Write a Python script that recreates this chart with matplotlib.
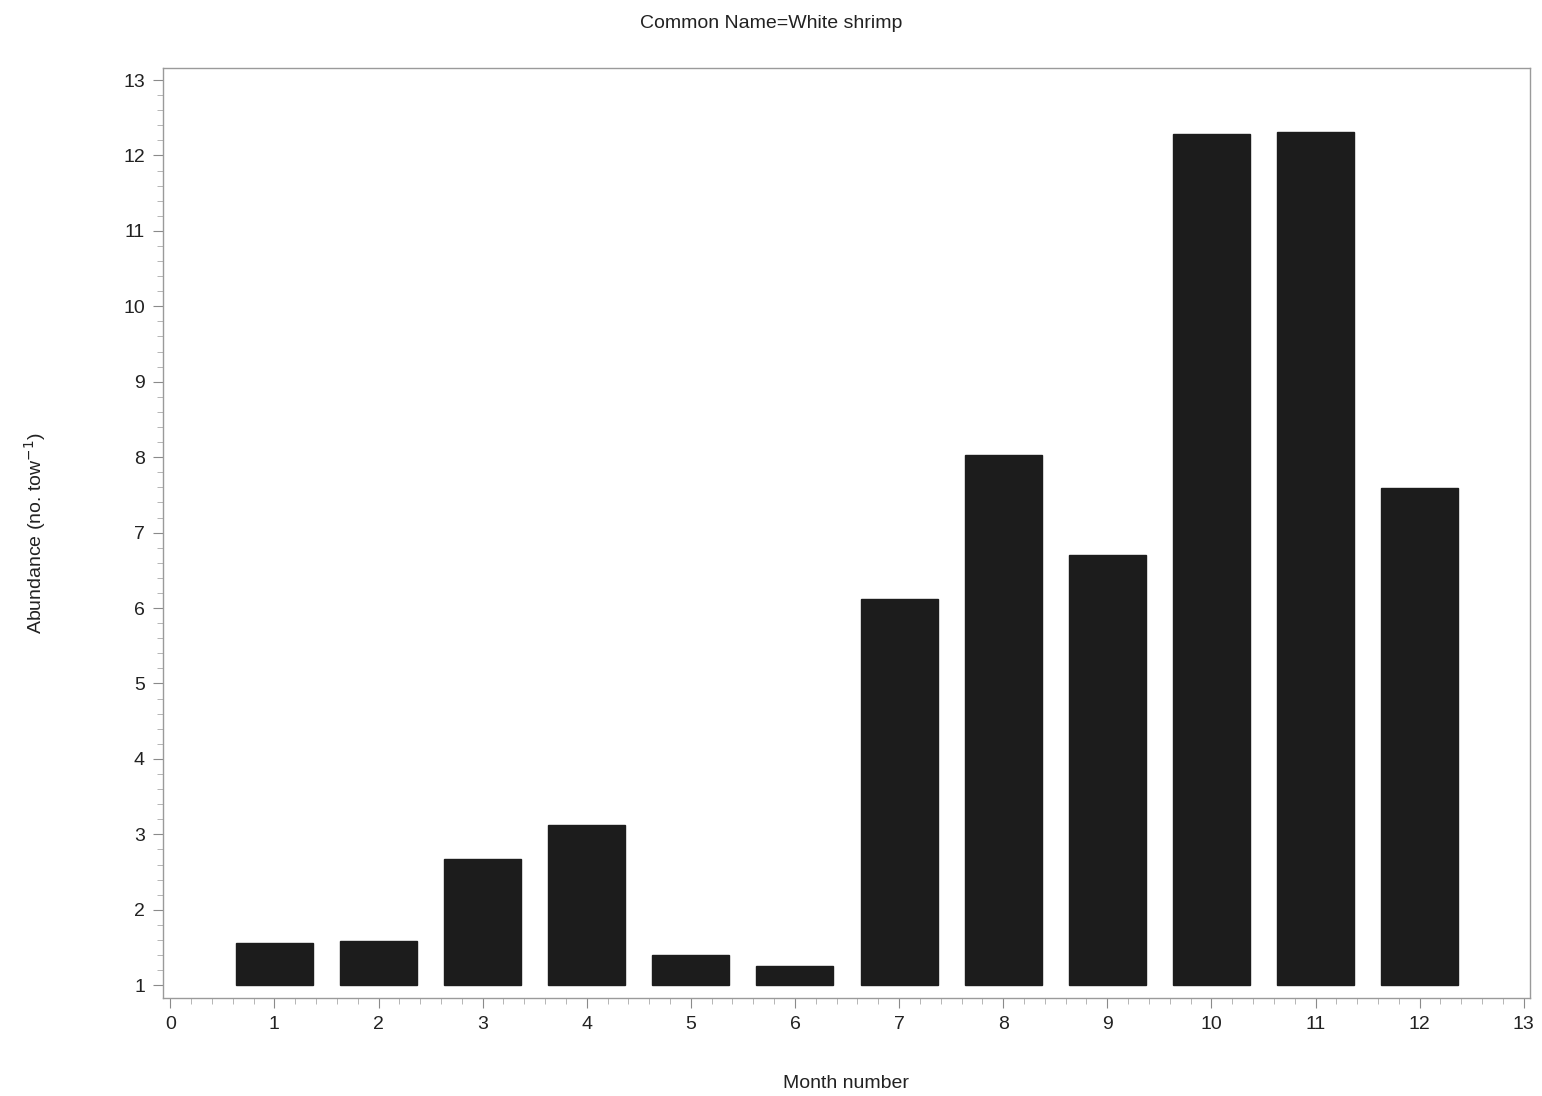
import matplotlib
matplotlib.use("Agg")
import matplotlib.pyplot as plt
from matplotlib.ticker import MultipleLocator

plt.rcParams['font.family'] = ['Liberation Sans', 'DejaVu Sans']

months = [1, 2, 3, 4, 5, 6, 7, 8, 9, 10, 11, 12]
abundance = [1.56, 1.58, 2.67, 3.12, 1.40, 1.25, 6.12, 8.03, 6.70, 12.29, 12.31, 7.59]
baseline = 1.0

fig = plt.figure(figsize=(15.42, 10.96), dpi=100)
ax = fig.add_axes([0.1057, 0.0894, 0.8865, 0.8486])

heights = [a - baseline for a in abundance]
ax.bar(months, heights, bottom=baseline, width=0.74, color='#1c1c1c', edgecolor='#1c1c1c')

ax.set_xlim(-0.07, 13.06)
ax.set_ylim(0.83, 13.16)
ax.xaxis.set_major_locator(MultipleLocator(1))
ax.xaxis.set_minor_locator(MultipleLocator(0.2))
ax.yaxis.set_major_locator(MultipleLocator(1))
ax.yaxis.set_minor_locator(MultipleLocator(0.2))

for s in ax.spines.values():
    s.set_color('#9a9a9a')
    s.set_linewidth(1.0)

ax.tick_params(which='major', direction='out', length=7, color='#8a8a8a', labelsize=14, labelcolor='#222222', pad=6)
ax.tick_params(which='minor', direction='out', length=4, color='#aaaaaa')

ax.set_xlabel('Month number', fontsize=14, color='#222222', labelpad=30)
ax.set_ylabel('Abundance (no. tow$^{-1}$)', fontsize=14, color='#222222', labelpad=54)
fig.suptitle('Common Name=White shrimp', fontsize=14, color='#222222', y=0.986)

fig.savefig('out.png', dpi=100, facecolor='white')
